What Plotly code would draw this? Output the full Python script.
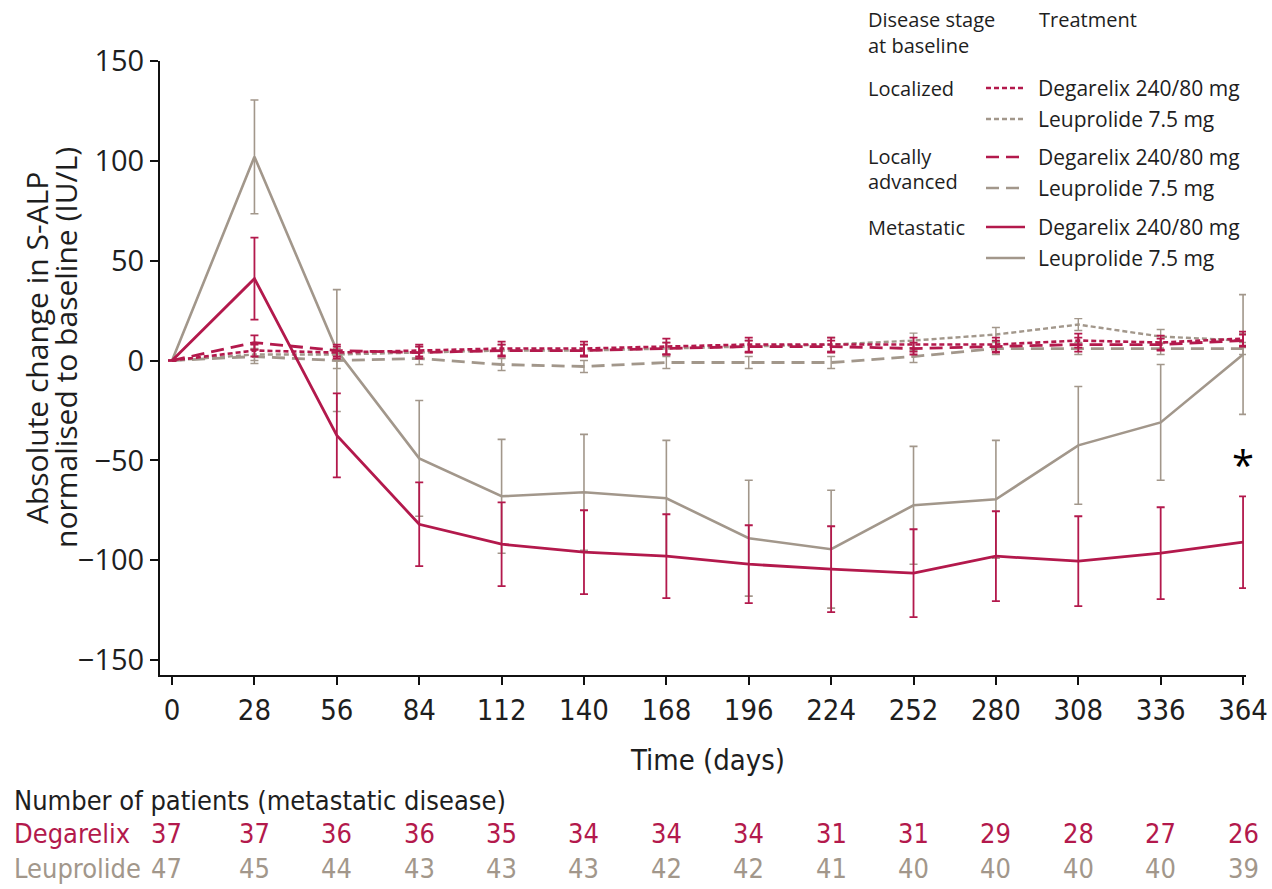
import plotly.graph_objects as go

# Visit days
days = [0, 28, 56, 84, 112, 140, 168, 196, 224, 252, 280, 308, 336, 364]

# Mean absolute change in S-ALP (IU/L) and error half-widths, by stage and treatment
loc_deg = [0, 5, 4, 5, 6, 6, 7, 8, 8, 8, 8, 10, 9, 11]
loc_deg_err = [0, 3, 3, 3, 3.5, 3.5, 4, 3.5, 3.5, 3.5, 3.5, 3.5, 3.5, 3.5]
loc_leu = [0, 3, 3, 4, 5, 5, 6, 7, 8, 10, 13, 18, 12, 10]
loc_leu_err = [0, 3, 3, 3, 3, 3, 3, 3, 3.5, 3.7, 3.5, 3, 3.5, 3.5]
adv_deg = [0, 9, 5, 4, 5, 5, 6, 7, 7, 6, 7, 8, 8, 10]
adv_deg_err = [0, 3.6, 3, 3, 3, 3, 3, 3, 3, 3, 3, 3.5, 3, 3]
adv_leu = [0, 2, 0, 1, -2, -3, -1, -1, -1, 2, 6, 6, 6, 6]
adv_leu_err = [0, 3.5, 4, 3, 3, 3, 3, 3, 3, 3, 3, 3, 3, 3]
met_deg = [0, 41, -37.5, -82, -92, -96, -98, -102, -104.5, -106.5, -98, -100.5, -96.5, -91]
met_deg_err = [0, 20.5, 21, 21, 21, 21, 21, 19.5, 21.5, 22, 22.5, 22.5, 23, 23]
met_leu = [0, 102, 5, -49, -68, -66, -69, -89, -94.5, -72.5, -69.5, -42.5, -31, 3]
met_leu_err = [0, 28.5, 30.5, 29, 28.5, 29, 29, 29, 29.5, 29.5, 29.5, 29.5, 29, 30]

# Number of patients with metastatic disease at each visit
n_deg = [37, 37, 36, 36, 35, 34, 34, 34, 31, 31, 29, 28, 27, 26]
n_leu = [47, 45, 44, 43, 43, 43, 42, 42, 41, 40, 40, 40, 40, 39]

RED = "#b3194c"
GRAY = "#a2978b"
TEXT = "#1e1e1e"
NARROW = "DejaVu Sans Condensed, Liberation Sans Narrow, sans-serif"
SANS = "Open Sans, Noto Sans, sans-serif"

SHORT_DASH = "5px,3px"
LONG_DASH = "13px,7px"

W, H = 1272, 889
L, R, T, B = 160, 26, 61, 214
PW, PH = W - L - R, H - T - B


def px(xp):
    return (xp - L) / PW


def py(yp):
    return (H - B - yp) / PH


series = [
    (loc_leu, loc_leu_err, GRAY, SHORT_DASH, 2.4, 1.4),
    (adv_leu, adv_leu_err, GRAY, LONG_DASH, 2.8, 1.4),
    (met_leu, met_leu_err, GRAY, "solid", 2.6, 1.6),
    (adv_deg, adv_deg_err, RED, LONG_DASH, 2.8, 1.8),
    (loc_deg, loc_deg_err, RED, SHORT_DASH, 2.6, 1.8),
    (met_deg, met_deg_err, RED, "solid", 2.8, 1.8),
]

fig = go.Figure()
for vals, errs, color, dash, lw, ew in series:
    fig.add_trace(go.Scatter(
        x=days, y=vals, mode="lines",
        line=dict(color=color, width=lw, dash=dash),
        error_y=dict(type="data", array=errs, visible=True,
                     color=color, thickness=ew, width=4),
        showlegend=False, hoverinfo="skip",
    ))

fig.update_xaxes(
    range=[-4.1, 365], tickvals=days, ticktext=[str(d) for d in days],
    showline=True, linecolor="#111", linewidth=2,
    ticks="outside", ticklen=8, tickwidth=2, tickcolor="#111",
    showgrid=False, zeroline=False, ticklabeloverflow="allow", automargin=False,
    tickfont=dict(family=NARROW, size=29, color=TEXT),
)
fig.update_yaxes(
    range=[-157.5, 150], tickvals=[-150, -100, -50, 0, 50, 100, 150],
    ticktext=["\u2212150", "\u2212100", "\u221250", "0", "50", "100", "150"],
    showline=True, linecolor="#111", linewidth=2,
    ticks="outside", ticklen=8, tickwidth=2, tickcolor="#111",
    showgrid=False, zeroline=False, automargin=False,
    tickfont=dict(family=SANS, size=29, color=TEXT),
)


def label(text, xp, yp, font, xanchor="left", **kw):
    return dict(x=px(xp), y=py(yp), xref="paper", yref="paper", text=text,
                xanchor=xanchor, yanchor="middle", showarrow=False, font=font, **kw)


ann = []
# axis titles
title_font = dict(family=SANS, size=30, color=TEXT)
ann.append(label("Absolute change in S-ALP", 36, 348, title_font,
                 xanchor="center", textangle=-90))
ann.append(label("normalised to baseline (IU/L)", 65, 348, title_font,
                 xanchor="center", textangle=-90))
ann.append(label("Time (days)", 707, 760, dict(family=NARROW, size=29, color=TEXT),
                 xanchor="center"))
# significance marker
ann.append(dict(x=364, y=-52, xref="x", yref="y", text="*", showarrow=False,
                xanchor="center", yanchor="middle",
                font=dict(family=SANS, size=40, color="#000")))

# legend headers and group labels
head_font = dict(family=SANS, size=20, color=TEXT)
legend_font = dict(family=SANS, size=21, color=TEXT)
for text, xp, yp in [("Disease stage", 866, 20), ("at baseline", 866, 46),
                     ("Treatment", 1037, 20)]:
    ann.append(label(text, xp, yp, head_font))
for text, xp, yp in [("Localized", 866, 88), ("Locally", 866, 157),
                     ("advanced", 866, 181), ("Metastatic", 866, 227)]:
    ann.append(label(text, xp, yp, head_font))

legend_rows = [
    (88, RED, SHORT_DASH, "Degarelix 240/80 mg"),
    (119, GRAY, SHORT_DASH, "Leuprolide 7.5 mg"),
    (157, RED, LONG_DASH, "Degarelix 240/80 mg"),
    (188, GRAY, LONG_DASH, "Leuprolide 7.5 mg"),
    (227, RED, "solid", "Degarelix 240/80 mg"),
    (258, GRAY, "solid", "Leuprolide 7.5 mg"),
]
shapes = []
for yp, color, dash, text in legend_rows:
    shapes.append(dict(type="line", xref="paper", yref="paper",
                       x0=px(986), x1=px(1025), y0=py(yp), y1=py(yp),
                       line=dict(color=color, width=2.6, dash=dash)))
    ann.append(label(text, 1036, yp, legend_font))

# number-at-risk table
ann.append(label("Number of patients (metastatic disease)", 12, 800,
                 dict(family=NARROW, size=27, color=TEXT)))
for name, counts, color, yp in [("Degarelix", n_deg, RED, 834),
                                ("Leuprolide", n_leu, GRAY, 868)]:
    row_font = dict(family=NARROW, size=27, color=color)
    ann.append(label(name, 12, yp, row_font))
    for i, (d, n) in enumerate(zip(days, counts)):
        ann.append(dict(x=d - (2.0 if i == 0 else 0), y=py(yp), xref="x", yref="paper",
                        text=str(n), xanchor="center", yanchor="middle",
                        showarrow=False, font=row_font))

fig.update_layout(
    width=W, height=H,
    margin=dict(l=L, r=R, t=T, b=B, autoexpand=False),
    paper_bgcolor="white", plot_bgcolor="white",
    annotations=ann, shapes=shapes, showlegend=False,
)

fig.write_html("out.html")
